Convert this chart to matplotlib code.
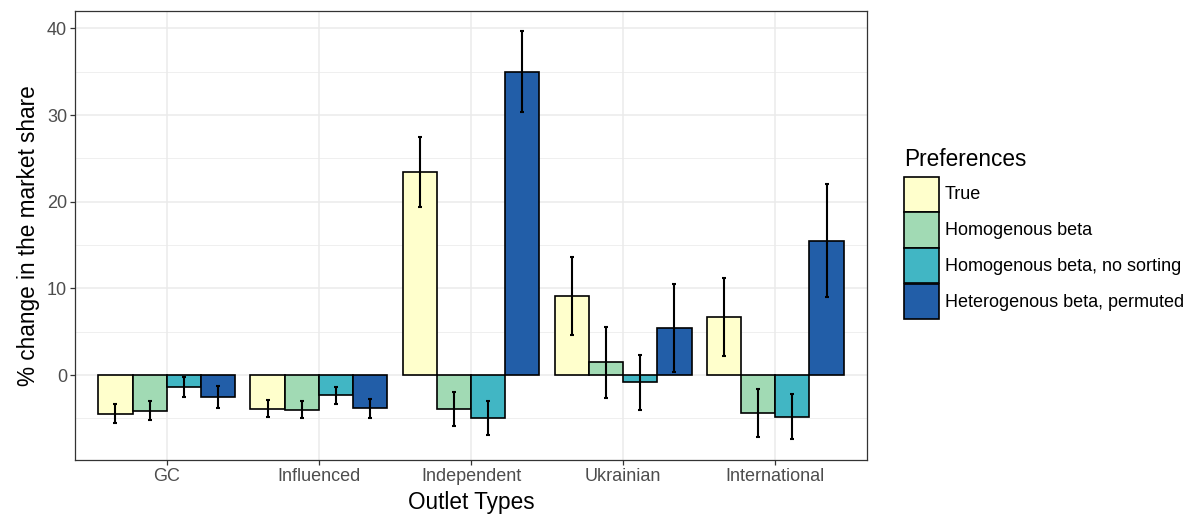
import numpy as np
import matplotlib
matplotlib.use("Agg")
import matplotlib.pyplot as plt
from matplotlib.patches import Patch

plt.rcParams['font.family'] = ['Liberation Sans', 'DejaVu Sans']

outlets = ["GC", "Influenced", "Independent", "Ukrainian", "International"]
pref_names = ["True", "Homogenous beta", "Homogenous beta, no sorting",
              "Heterogenous beta, permuted"]
pref_colors = ["#FFFFCC", "#A1DAB4", "#41B6C4", "#225EA8"]

true_vals = [-4.48, -3.88, 23.42, 9.12, 6.69]
true_err = [1.10, 1.00, 4.05, 4.52, 4.45]
homog_vals = [-4.10, -4.00, -3.90, 1.45, -4.34]
homog_err = [1.13, 1.00, 2.00, 4.05, 2.77]
nosort_vals = [-1.35, -2.32, -4.95, -0.85, -4.79]
nosort_err = [1.15, 0.98, 1.98, 3.22, 2.63]
hetero_vals = [-2.52, -3.85, 35.00, 5.46, 15.50]
hetero_err = [1.25, 1.05, 4.70, 5.10, 6.50]

series = [(true_vals, true_err), (homog_vals, homog_err),
          (nosort_vals, nosort_err), (hetero_vals, hetero_err)]

W, H = 1186, 514
fig = plt.figure(figsize=(W / 100, H / 100), dpi=100)
ax = fig.add_axes([75.5 / W, (H - 459.8) / H, (866.5 - 75.5) / W, (459.8 - 10.5) / H])

x = np.arange(len(outlets))
group_w = 0.9
bar_w = group_w / len(series)

for i, ((vals, errs), col) in enumerate(zip(series, pref_colors)):
    pos = x - group_w / 2 + bar_w * (i + 0.5)
    ax.bar(pos, vals, width=bar_w, color=col, edgecolor="black",
           linewidth=1.2, zorder=3)
    ax.errorbar(pos, vals, yerr=errs, fmt="none", ecolor="black",
                elinewidth=1.5, capsize=1.6, capthick=1.5, zorder=4)

# ggplot-like limits and expansion
lo = min(v - e for vals, errs in series for v, e in zip(vals, errs))
hi = max(v + e for vals, errs in series for v, e in zip(vals, errs))
pad = 0.05 * (hi - lo)
ax.set_ylim(lo - pad, hi + pad)
ax.set_xlim(-0.6, len(outlets) - 0.4)

ax.set_yticks([0, 10, 20, 30, 40])
ax.set_yticks([-5, 5, 15, 25, 35], minor=True)
ax.set_xticks(x)
ax.set_xticklabels(outlets)

ax.grid(which="major", color="#EBEBEB", linewidth=1.1, zorder=0)
ax.grid(which="minor", axis="y", color="#EBEBEB", linewidth=0.55, zorder=0)
ax.set_axisbelow(True)

for s in ax.spines.values():
    s.set_color("#333333")
    s.set_linewidth(0.9)

ax.tick_params(which="major", length=3.6, width=0.9, color="#333333",
               labelsize=13, labelcolor="#4D4D4D", pad=2.5)
ax.tick_params(which="minor", length=0)

ax.set_xlabel("Outlet Types", fontsize=16.3, labelpad=4)
ax.set_ylabel("% change in the market share", fontsize=16.3, labelpad=5)

# legend: title as separate text, square keys below it
fig.text(904 / W, (H - 166) / H, "Preferences", fontsize=16.3,
         ha="left", va="baseline")
handles = [Patch(facecolor=c, edgecolor="black", linewidth=1.2) for c in pref_colors]
fig.legend(handles, pref_names, loc="upper left",
           bbox_to_anchor=(904 / W, (H - 176.5) / H), bbox_transform=fig.transFigure,
           frameon=False, fontsize=13,
           handlelength=1.94, handleheight=2.61, labelspacing=0.05,
           handletextpad=0.33, borderpad=0, borderaxespad=0)

fig.savefig("out.png", dpi=100)
